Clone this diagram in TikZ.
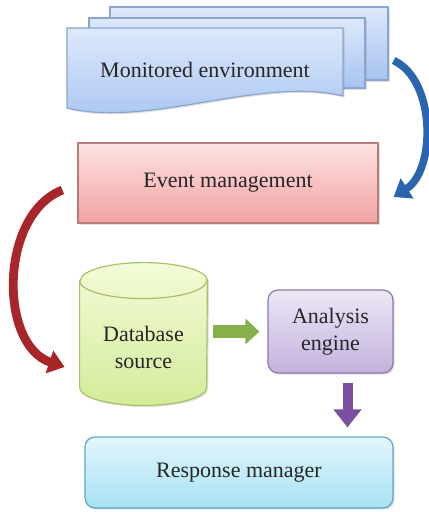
\documentclass[tikz,border=0pt]{standalone}
\usepackage{fontspec}
\setmainfont{Liberation Serif}
\newfontfamily\chuthuong{Liberation Serif}
\usetikzlibrary{arrows.meta,shadows}
\definecolor{xanhnhat}{HTML}{DDE9FB}
\definecolor{xanhdam}{HTML}{A6C3F0}
\definecolor{vienxanh}{HTML}{8AA5CF}
\definecolor{hongnhat}{HTML}{FDE2E2}
\definecolor{hongdam}{HTML}{F2A2A2}
\definecolor{vienhong}{HTML}{B97A7A}
\definecolor{lucnhat}{HTML}{F3FBD8}
\definecolor{lucdam}{HTML}{D3EC9A}
\definecolor{vienluc}{HTML}{A6C266}
\definecolor{timnhat}{HTML}{EDE7F6}
\definecolor{timdam}{HTML}{C3B2DD}
\definecolor{vientim}{HTML}{8E78AC}
\definecolor{lamnhat}{HTML}{E3F6FC}
\definecolor{lamdam}{HTML}{A7E1F3}
\definecolor{vienlam}{HTML}{5FA8BD}
\tikzset{
	bong/.style={drop shadow={shadow xshift=0.8pt,shadow yshift=-0.8pt,opacity=0.25}},
	chu/.style={font=\chuthuong\fontsize{11}{13.5}\selectfont,text=black!85,align=center},
	khung/.style 2 args={draw=#2,line width=0.6pt,top color=#1nhat,bottom color=#1dam,bong,inner sep=0pt},
	cong/.style={line width=#1,-{Triangle[length=8pt,width=11.5pt]}},
}
\begin{document}
\begin{tikzpicture}[x=0.5pt,y=-0.5pt]
	\useasboundingbox (0,0) rectangle (428,512);
	%hinh1
	\node[khung={xanh}{vienxanh},minimum width=139pt,minimum height=36.5pt] (tl3) at (249,43.5) {};
	\node[khung={xanh}{vienxanh},minimum width=138pt,minimum height=35pt] (tl2) at (227,53) {};
	\draw[khung={xanh}{vienxanh}] (67,28) -- (343,28) -- (343,96) .. controls (260,76) and (150,128) .. (67,108) -- cycle;
	\node[chu] (moitruong) at (205,70) {Monitored environment};
	%hinh2
	\node[khung={hong}{vienhong},chu,minimum width=150pt,minimum height=40pt] (sukien) at (228,183) {Event management};
	%hinh3
	\node[minimum width=63.5pt,minimum height=71pt,inner sep=0pt] (csdl) at (143.5,334) {};
	\draw[khung={luc}{vienluc}] ([yshift=-9pt]csdl.north west) -- ([yshift=9pt]csdl.south west)
		arc[start angle=180,end angle=360,x radius=31.75pt,y radius=9pt] -- ([yshift=-9pt]csdl.north east)
		arc[start angle=0,end angle=180,x radius=31.75pt,y radius=9pt] -- cycle;
	\draw[draw=vienluc,line width=0.6pt] ([yshift=-9pt]csdl.north west) arc[start angle=180,end angle=360,x radius=31.75pt,y radius=9pt];
	\node[chu] (csdlchu) at (143.5,347) {Database\\source};
	\node[khung={tim}{vientim},chu,rounded corners=5pt,minimum width=62.5pt,minimum height=41.5pt] (dongco) at (330.5,331.5) {Analysis\\engine};
	%hinh4
	\node[khung={lam}{vienlam},chu,rounded corners=5pt,minimum width=154pt,minimum height=35.5pt] (phanhoi) at (239,472.5) {Response manager};
	%mui ten
	\draw[cong=3.8pt,color={rgb,255:red,42;green,101;blue,173}] ([shift={(5,17)}]tl3.east) .. controls (436,80) and (436,170) .. ([shift={(15,14)}]sukien.east);
	\draw[cong=4.4pt,color={rgb,255:red,168;green,38;blue,42}] ([shift={(-15,7)}]sukien.west) .. controls (-1,215) and (-1,345) .. ([shift={(-15,33)}]csdl.west);
	\draw[line width=6.5pt,-{Triangle[length=7pt,width=12.5pt]},color={rgb,255:red,134;green,176;blue,74},shorten <=3pt,shorten >=4pt] (csdl.east|-dongco.west) -- (dongco.west);
	\draw[line width=5pt,-{Triangle[length=9pt,width=13.5pt]},color={rgb,255:red,123;green,79;blue,159},shorten <=4.5pt,shorten >=4.5pt] ([xshift=8.5]dongco.south) -- ([xshift=8.5]dongco.south|-phanhoi.north);
\end{tikzpicture}
\end{document}
